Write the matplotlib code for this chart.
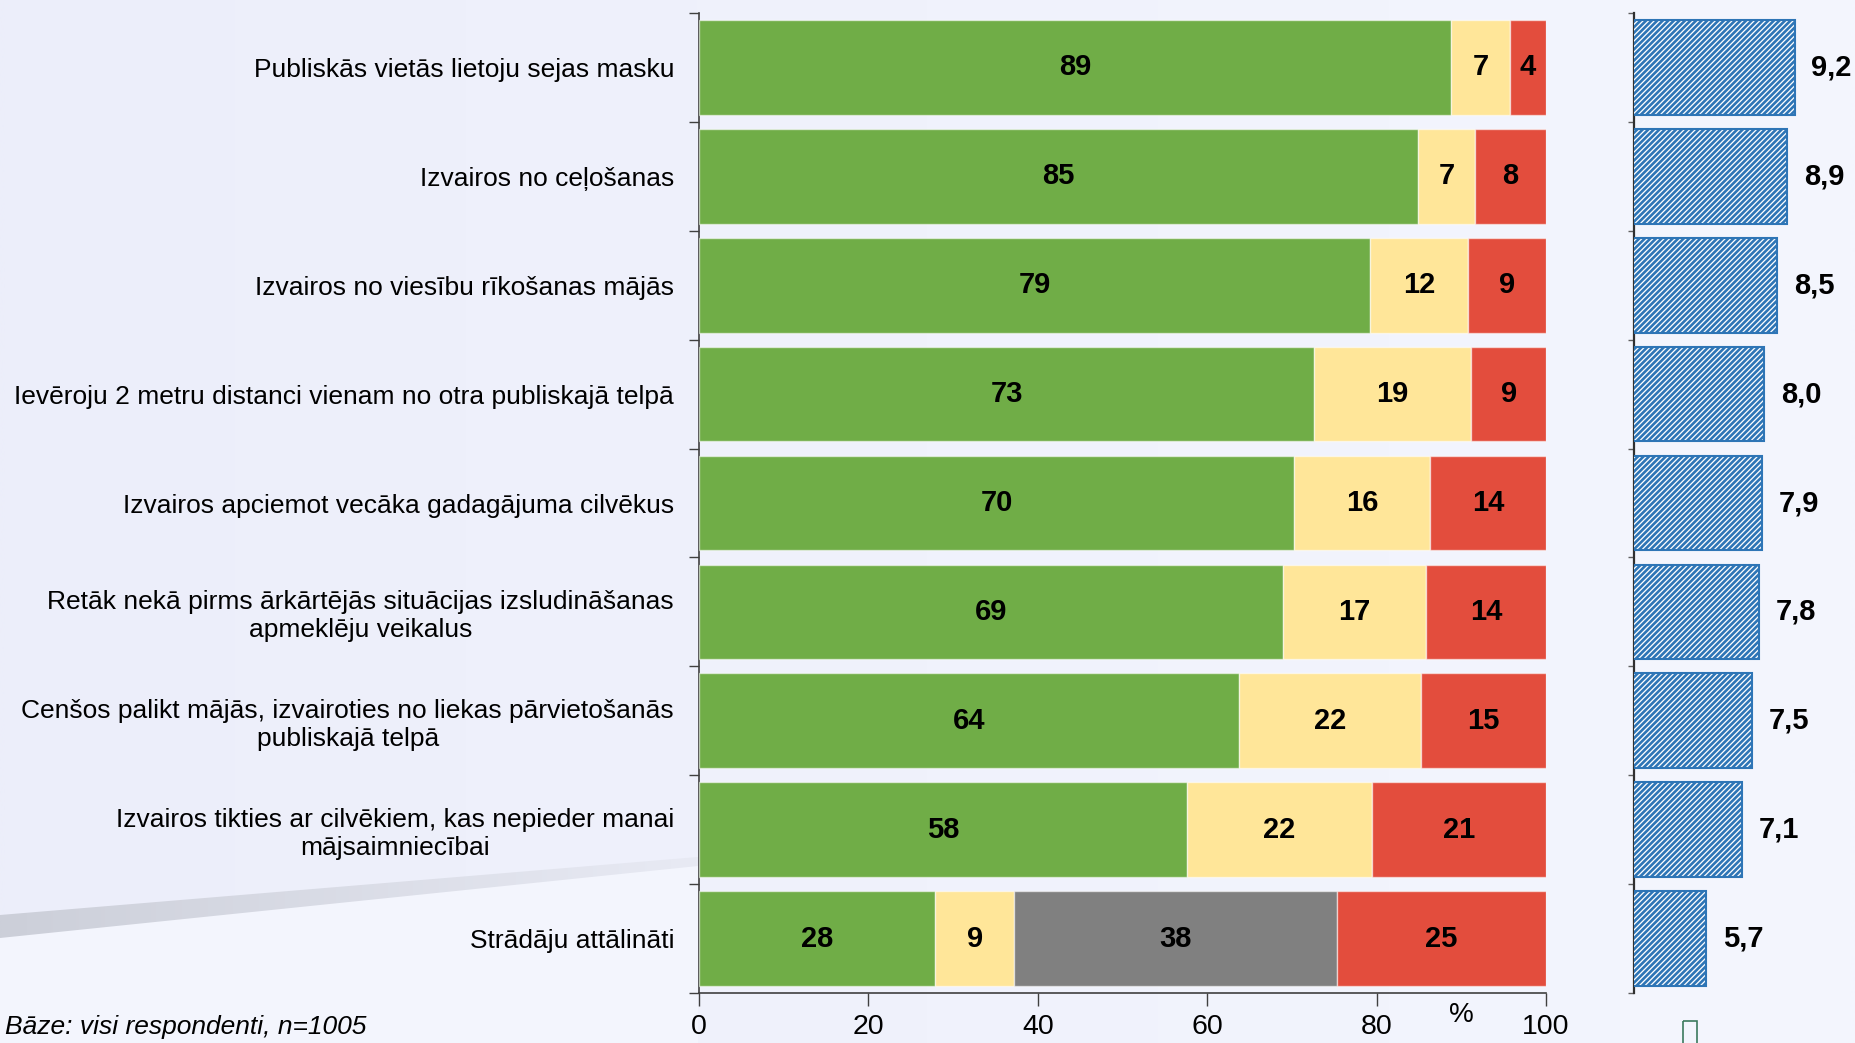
import numpy as np
import matplotlib
matplotlib.use("Agg")
import matplotlib.pyplot as plt
from matplotlib.patches import Polygon, Rectangle
from matplotlib.colors import to_rgb

plt.rcParams["font.family"] = ["Liberation Sans", "DejaVu Sans"]
plt.rcParams["hatch.linewidth"] = 1.9

# ---------------------------------------------------------------------------
# Data
# ---------------------------------------------------------------------------
categories = [
    "Publiskās vietās lietoju sejas masku",
    "Izvairos no ceļošanas",
    "Izvairos no viesību rīkošanas mājās",
    "Ievēroju 2 metru distanci vienam no otra publiskajā telpā",
    "Izvairos apciemot vecāka gadagājuma cilvēkus",
    "Retāk nekā pirms ārkārtējās situācijas izsludināšanas\napmeklēju veikalus",
    "Cenšos palikt mājās, izvairoties no liekas pārvietošanās\npubliskajā telpā",
    "Izvairos tikties ar cilvēkiem, kas nepieder manai\nmājsaimniecībai",
    "Strādāju attālināti",
]
green_vals = [88.8, 84.9, 79.2, 72.6, 70.3, 69.0, 63.7, 57.6, 27.9]
yellow_vals = [6.9, 6.7, 11.6, 18.6, 16.0, 16.8, 21.6, 21.8, 9.3]
gray_vals = [0, 0, 0, 0, 0, 0, 0, 0, 38.1]
red_vals = [4.3, 8.4, 9.2, 8.8, 13.7, 14.2, 14.7, 20.6, 24.7]
scores = [9.2, 8.9, 8.5, 8.0, 7.9, 7.8, 7.5, 7.1, 5.7]
x_ticks = [0, 20, 40, 60, 80, 100]

series = [
    (green_vals, "#70AD47"),
    (yellow_vals, "#FFE699"),
    (gray_vals, "#808080"),
    (red_vals, "#E34D3D"),
]

W, H = 1855, 1043
fig = plt.figure(figsize=(W / 100, H / 100), dpi=100)
fig.patch.set_facecolor("#F3F5FE")

# ---- background: soft gradient + grey swoosh ----
bg = fig.add_axes([0, 0, 1, 1], zorder=-10)
bg.axis("off")
c_left = np.array(to_rgb("#ECEEFA"))
c_right = np.array(to_rgb("#F4F6FE"))
t = np.linspace(0, 1, 200)[None, :, None]
grad = np.repeat(c_left * (1 - t) + c_right * t, 2, axis=0)
bg.imshow(grad, extent=(0, W, H, 0), aspect="auto", interpolation="bilinear")
bg.add_patch(Polygon([(0, 938), (698, 866), (698, H), (0, H)], closed=True,
                     facecolor="#F3F5FD", edgecolor="none"))
swoosh = Polygon([(0, 915), (698, 857), (698, 867), (0, 940)], closed=True,
                 facecolor="none", edgecolor="none")
bg.add_patch(swoosh)
s_left = np.array(to_rgb("#CCCFD9"))
s_right = np.array(to_rgb("#E8EAF4"))
sg = np.repeat(s_left * (1 - t) + s_right * t, 2, axis=0)
im = bg.imshow(sg, extent=(0, 698, 940, 857), aspect="auto",
               interpolation="bilinear")
im.set_clip_path(swoosh)
bg.add_patch(Rectangle((1683, 1021), 14, 30, fill=False,
                       edgecolor="#3C7A5E", lw=1.2))
bg.set_xlim(0, W)
bg.set_ylim(H, 0)

# ---- main stacked bar chart ----
n = len(categories)
y = np.arange(n)
ax = fig.add_axes([699 / W, 50 / H, 847 / W, 980 / H])
ax.set_facecolor("none")

left = np.zeros(n)
for vals, color in series:
    vals = np.array(vals, dtype=float)
    ax.barh(y, vals, left=left, height=0.87, color=color,
            edgecolor=(1, 1, 1, 0.55), linewidth=1, zorder=3)
    for yi, v, l in zip(y, vals, left):
        if v > 0:
            ax.text(l + v / 2, yi, "{:.0f}".format(v), ha="center",
                    va="center", fontsize=21, fontweight="bold",
                    color="black", zorder=4)
    left += vals

ax.set_xlim(0, 100)
ax.set_ylim(n - 0.5, -0.5)
ax.set_xticks(x_ticks)
ax.set_xticklabels([str(v) for v in x_ticks])
ax.set_yticks(y)
ax.set_yticklabels(categories, fontsize=19, ha="right", multialignment="center")
ax.set_yticks(np.arange(-0.5, n, 1), minor=True)
ax.tick_params(axis="y", which="major", length=0, pad=18)
ax.tick_params(axis="y", which="minor", length=7, width=1, color="#404040",
               direction="out")
ax.tick_params(axis="x", length=9, width=1, color="#404040", labelsize=20.5,
               pad=6, direction="out")
for side in ("top", "right"):
    ax.spines[side].set_visible(False)
for side in ("left", "bottom"):
    ax.spines[side].set_color("#404040")
    ax.spines[side].set_linewidth(1.2)
ax.text(0.9, -0.022, "%", transform=ax.transAxes, ha="center", va="center",
        fontsize=20)

# ---- right panel: mean scores ----
ax2 = fig.add_axes([1634 / W, 50 / H, 181 / W, 980 / H])
ax2.set_facecolor("none")
ax2.barh(y, scores, height=0.87, facecolor="white", edgecolor="#2E75B6",
         hatch="//////", linewidth=1.5, zorder=3)
for yi, s in zip(y, scores):
    ax2.annotate("{:.1f}".format(s).replace(".", ","), (s, yi),
                 xytext=(12, 0), textcoords="offset points", ha="left",
                 va="center", fontsize=21, fontweight="bold",
                 annotation_clip=False)
ax2.set_xlim(2.85, 10)
ax2.set_ylim(n - 0.5, -0.5)
ax2.set_xticks([])
ax2.set_yticks([])
ax2.set_yticks(np.arange(-0.5, n, 1), minor=True)
ax2.tick_params(axis="y", which="minor", length=4, width=1, color="#606060",
                labelleft=False)
for side in ("top", "right", "bottom"):
    ax2.spines[side].set_visible(False)
ax2.spines["left"].set_color("#303030")
ax2.spines["left"].set_linewidth(1.6)

fig.text(5 / W, 1 - 1027 / H, "Bāze: visi respondenti, n=1005",
         fontsize=19, style="italic", ha="left", va="center")

fig.savefig("out.png", dpi=100, facecolor=fig.get_facecolor())
